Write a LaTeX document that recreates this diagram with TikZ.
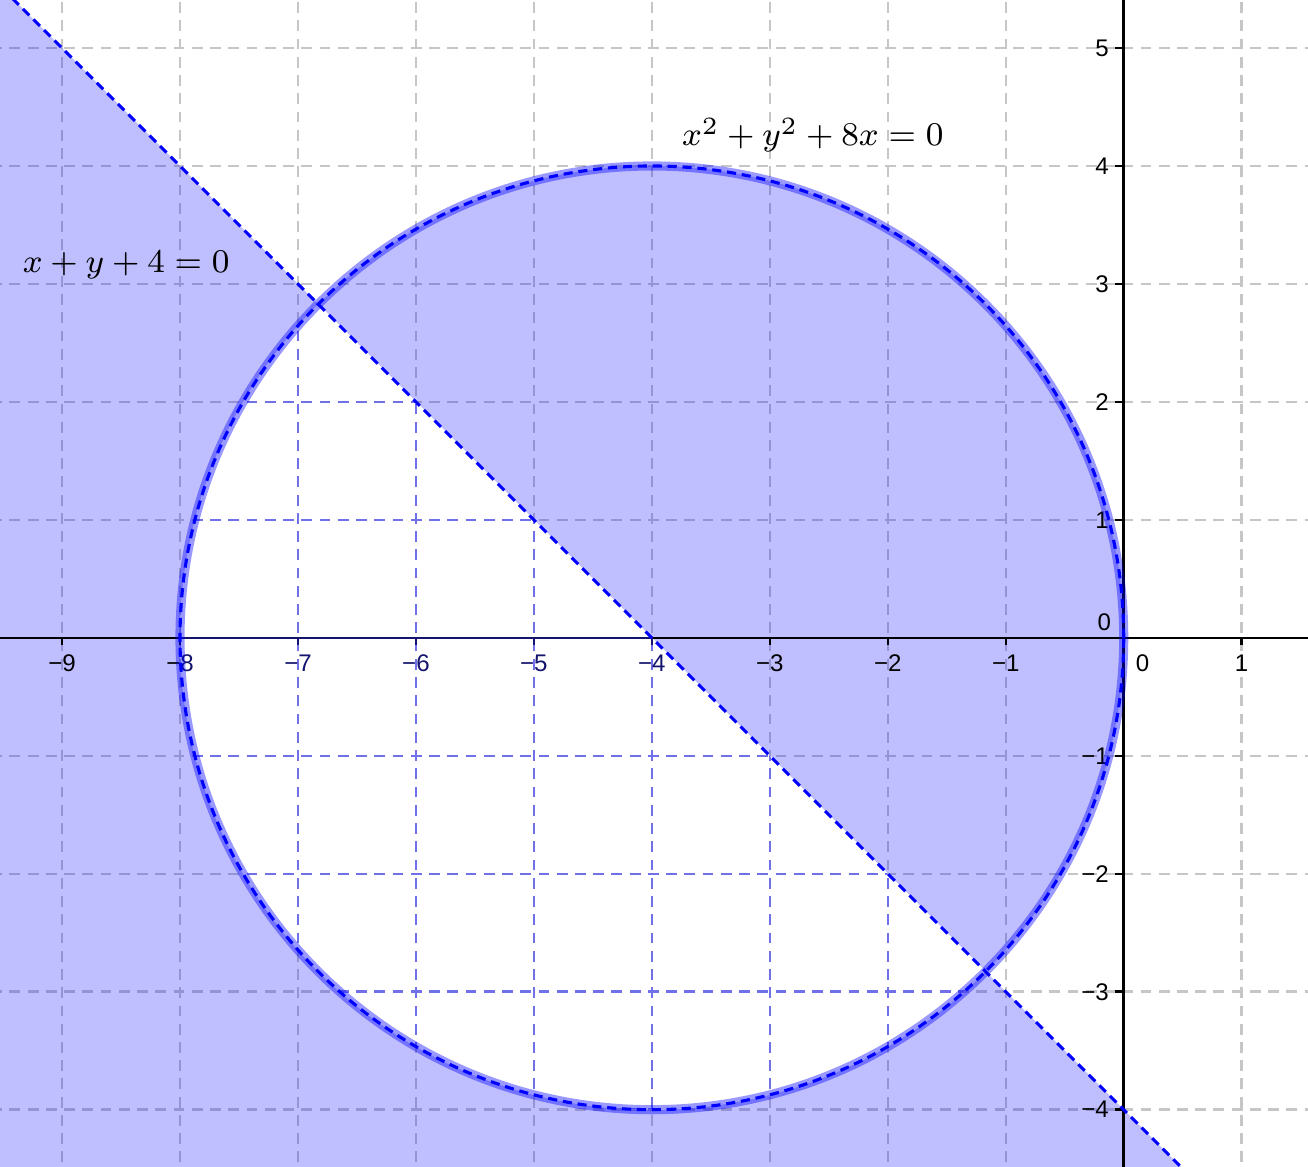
\documentclass[tikz,border=0pt]{standalone}
\usepackage{fontspec}
\newfontfamily\tickfont{Liberation Sans}
\usepackage{tikz}
\usetikzlibrary{positioning}
\definecolor{gridblue}{RGB}{112,112,232}
\definecolor{axisblue}{RGB}{20,20,110}

\begin{document}
\begin{tikzpicture}[
  gridline/.style={draw=gray!45, line width=0.6pt, dash pattern=on 2.6pt off 1.8pt},
  axisline/.style={line width=0.6pt},
  ticklab/.style={font=\fontsize{5.8}{7}\tickfont, inner sep=0pt},
  eqlab/.style={font=\fontsize{8.2}{10}\selectfont, inner sep=0pt},
  region/.style={fill=blue, fill opacity=0.25, even odd rule},
  curve/.style={draw=blue, line width=0.75pt, dash pattern=on 2.2pt off 1.4pt},
  band/.style={draw=blue, draw opacity=0.4, line width=2.2pt}
]
\useasboundingbox (-9.526,-4.482) rectangle (1.562,5.407);
\clip (-9.526,-4.482) rectangle (1.562,5.407);

%% Named points
\coordinate (O) at (-4,0);
\coordinate (L1) at (-9.6,5.6);
\coordinate (L2) at (1.6,-5.6);

%% Grid
\foreach \x in {-9,...,1}
  \draw[gridline] (\x,-4.6) -- (\x,5.6);
\foreach \y in {-4,...,5}
  \draw[gridline] (-9.6,\y) -- (1.6,\y);

%% Shaded region
\fill[region] (L1) -- (L2) -- (-9.6,-5.6) -- cycle (O) circle (4);

%% Axes
\draw[axisline] (-9.6,0) -- (1.6,0);
\draw[axisline] (0,-4.6) -- (0,5.6);
\foreach \x in {-9,...,-1}{
  \draw[axisline] (\x,0) -- (\x,-0.06);
  \node[ticklab, anchor=north] (lx\x) at (\x,-0.14) {−\the\numexpr-\x\relax};
}
\draw[axisline] (1,0) -- (1,-0.06);
\node[ticklab, anchor=north] (lx1) at (1,-0.14) {1};
\node[ticklab, anchor=north] (lx0) at (0.16,-0.14) {0};
\foreach \y in {1,...,5}{
  \draw[axisline] (0,\y) -- (-0.075,\y);
  \node[ticklab, anchor=east] (ly\y) at (-0.12,\y) {\y};
}
\foreach \y in {-4,...,-1}{
  \draw[axisline] (0,\y) -- (-0.075,\y);
  \node[ticklab, anchor=east] (ly\y) at (-0.12,\y) {−\the\numexpr-\y\relax};
}
\node[ticklab, anchor=south east] (ly0) at (-0.1,0.05) {0};

%% Tinted grid inside the white part
\begin{scope}
  \clip (O) circle (4);
  \clip (L1) -- (L2) -- (-9.6,-5.6) -- cycle;
  \fill[white] (-9.6,-5.6) rectangle (1.6,5.6);
  \foreach \x in {-9,...,1}
    \draw[gridline, draw=gridblue] (\x,-4.6) -- (\x,5.6);
  \foreach \y in {-4,...,5}
    \draw[gridline, draw=gridblue] (-9.6,\y) -- (1.6,\y);
  \draw[axisline, draw=axisblue] (-9.6,0) -- (1.6,0);
  \foreach \x in {-8,...,-4}{
    \draw[axisline, draw=axisblue] (\x,0) -- (\x,-0.06);
    \node[ticklab, text=axisblue, anchor=north] (bx\x) at (\x,-0.14) {−\the\numexpr-\x\relax};
  }
\end{scope}

%% Circle and line
\draw[band] (O) circle (4);
\draw[curve] (O) circle (4);
\draw[curve] (L1) -- (L2);

%% Equations
\node[eqlab, anchor=west] (lineeq) at (-9.34,3.16) {$x+y+4=0$};
\node[eqlab, anchor=west] (circeq) at (-3.75,4.26) {$x^2+y^2+8x=0$};

\end{tikzpicture}
\end{document}
